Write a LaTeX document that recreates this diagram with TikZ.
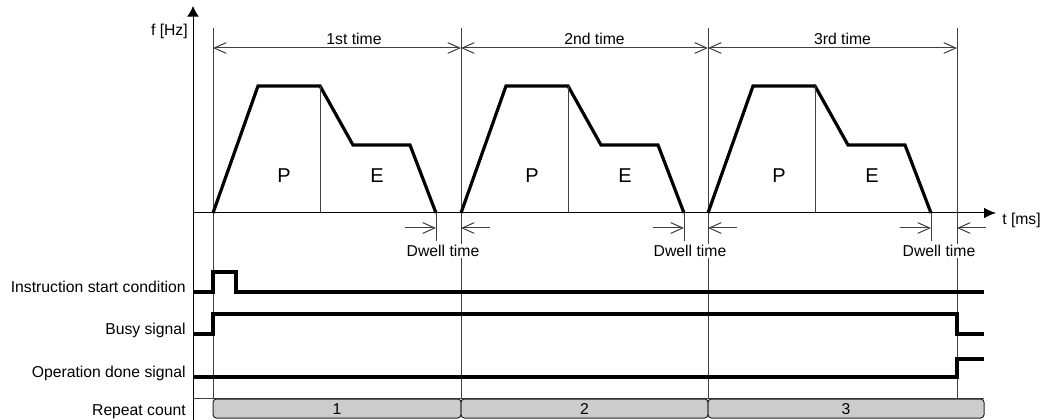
\documentclass[tikz,border=0pt]{standalone}
\usepackage{fontspec}
\setmainfont{Liberation Sans}
\usetikzlibrary{arrows.meta,calc}
\tikzset{
  thinline/.style={black!75,line width=0.75pt},
  wave/.style={black,line width=2.4pt,line join=miter},
  barb/.tip={Straight Barb[length=9pt,width=8pt]},
  dimarrow/.style={thinline,barb-barb},
  dwellarrow/.style={thinline,-barb},
  lbl/.style={inner sep=0pt,font=\fontsize{11.8}{13}\selectfont},
  area/.style={inner sep=0pt,font=\fontsize{15}{17}\selectfont},
  countbox/.style={draw=black!85,fill=black!20,rounded corners=2.5pt,line width=0.75pt}
}

\begin{document}
\begin{tikzpicture}[x=0.75pt,y=-0.75pt]
    \useasboundingbox (0,0) rectangle (1041,420);

    % axes
    \coordinate (orig) at (193,213);
    \draw[black,line width=0.75pt,-{Latex[length=8pt,width=9pt]}] (193,420) -- (193,6);
    \draw[black,line width=0.75pt,-{Latex[length=9pt,width=8pt]}] (orig) -- (996,213);
    \node[lbl,anchor=east] (fhz) at (188,31) {f [Hz]};
    \node[lbl,anchor=west] (tms) at (1002,220) {t [ms]};

    % cycle borders
    \coordinate (s1) at (213,0);
    \coordinate (s2) at (461,0);
    \coordinate (s3) at (708,0);
    \coordinate (s4) at (957,0);
    \foreach \k in {1,...,4}
        \draw[thinline] (s\k |- 0,28) -- (s\k |- 0,398);

    % 1st / 2nd / 3rd time
    \foreach \k/\n/\dx/\txt in {1/2/17/1st time,2/3/10/2nd time,3/4/10/3rd time} {
        \draw[dimarrow] (s\k |- 0,48) -- (s\n |- 0,48);
        \node[lbl,anchor=base] (cyc\k) at ($(s\k)!0.5!(s\n) + (\dx,45)$) {\txt};
    }

    % speed pattern
    \foreach \k/\n in {1/2,2/3,3/4} {
        \draw[wave] (s\k |- orig) -- ++(45,-127) -- ++(62,0) -- ++(33,59)
            -- ++(57,0) -- ++(26,68) coordinate (end\k);
        \draw[thinline] ($(s\k |- orig) + (107,0)$) -- ++(0,-127);
        \node[area,anchor=base] (p\k) at ($(s\k) + (71,183)$) {P};
        \node[area,anchor=base] (e\k) at ($(s\k) + (164,183)$) {E};

        % dwell time
        \draw[thinline] (end\k) -- ++(0,28);
        \coordinate (dwa\k) at ($(end\k) + (0,15)$);
        \coordinate (dwb\k) at (s\n |- dwa\k);
        \draw[dwellarrow] ($(dwa\k) + (-31,0)$) -- (dwa\k);
        \draw[dwellarrow] ($(dwb\k) + (29,0)$) -- (dwb\k);
        \node[lbl,anchor=base,fill=white,inner sep=1pt] (dw\k) at ($(s\n) + (-18,257)$) {Dwell time};
    }

    % signals
    \draw[wave] (193,292) -- (213,292) -- (213,272) -- (236,272) -- (236,292) -- (984,292);
    \draw[wave] (193,334) -- (213,334) -- (213,314) -- (957,314) -- (957,334) -- (984,334);
    \draw[wave] (193,377) -- (957,377) -- (957,359) -- (984,359);

    \node[lbl,anchor=base east] (isc) at (186,292) {Instruction start condition};
    \node[lbl,anchor=base east] (busy) at (186,334) {Busy signal};
    \node[lbl,anchor=base east] (done) at (186,377) {Operation done signal};
    \node[lbl,anchor=base east] (rep) at (186,415) {Repeat count};

    % repeat count
    \draw[thinline] (193,398) -- (984,398);
    \coordinate (r4) at (984,0);
    \foreach \k/\n in {1/s2,2/s3,3/r4} {
        \draw[countbox] (s\k |- 0,399) rectangle (\n |- 0,418);
        \node[lbl,anchor=base] (cnt\k) at ($(s\k |- 0,414)!0.5!(\n |- 0,414)$) {\k};
    }
\end{tikzpicture}
\end{document}
